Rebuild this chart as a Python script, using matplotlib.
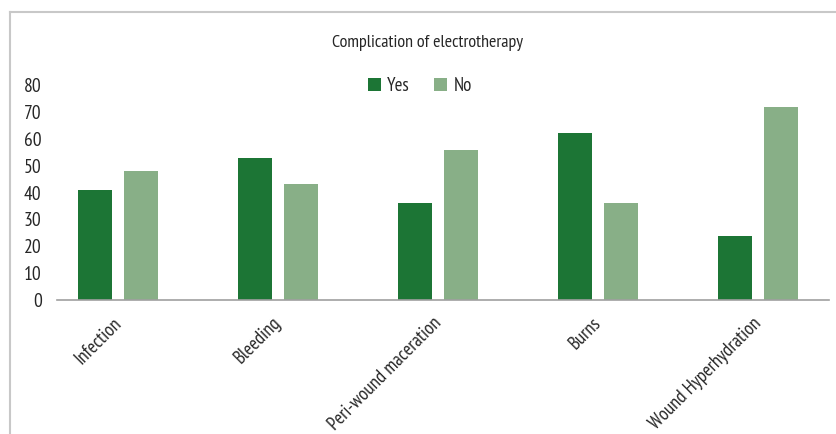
import matplotlib
matplotlib.use("Agg")
import matplotlib.pyplot as plt
import matplotlib.transforms as mtransforms
from matplotlib.lines import Line2D
import numpy as np

categories = ["Infection", "Bleeding", "Peri-wound maceration", "Burns", "Wound Hyperhydration"]
yes_vals = [41, 53, 36, 62, 24]
no_vals = [48, 43, 56, 36, 72]
y_ticks = [0, 10, 20, 30, 40, 50, 60, 70, 80]

plt.rcParams["font.family"] = ["PT Sans Narrow", "DejaVu Sans"]

dark = "#1C7535"
light = "#88AF87"
text_col = "#262626"

fig = plt.figure(figsize=(8.37, 4.34), dpi=100)
W, H = 837, 434
ax = fig.add_axes([57 / W, 1 - 300 / H, (829 - 57) / W, (300 - 85) / H])

x = np.arange(len(categories))
bw = 0.2125
off = 0.14375
ax.bar(x - off, yes_vals, bw, color=dark, label="Yes")
ax.bar(x + off, no_vals, bw, color=light, label="No")

ax.set_xlim(-0.381, 4.444)
ax.set_ylim(0, 80)
ax.set_yticks(y_ticks)
ax.tick_params(axis="y", length=0, labelsize=14, colors=text_col, pad=11)
ax.set_xticks(x)
ax.set_xticklabels(categories, rotation=45, ha="right", va="top",
                   rotation_mode="anchor", fontsize=13.5, color=text_col)
ax.tick_params(axis="x", length=0, pad=10)
shift = mtransforms.ScaledTranslation(-6 / 100, 0, fig.dpi_scale_trans)
for lab in ax.get_xticklabels():
    lab.set_transform(lab.get_transform() + shift)

for s in ["top", "right", "left"]:
    ax.spines[s].set_visible(False)
ax.spines["bottom"].set_color("#A0A0A0")
ax.spines["bottom"].set_linewidth(1.2)

fig.text(428 / W, 1 - 43 / H, "Complication of electrotherapy",
         ha="center", va="center", fontsize=13, color=text_col)

fig.legend(loc="center", bbox_to_anchor=(420 / W, 1 - 86 / H), ncol=2,
           frameon=False, fontsize=13.5, handlelength=0.7, handleheight=0.7,
           handletextpad=0.35, columnspacing=1.3, labelcolor=text_col)

# outer frame: top and left edges only
fig.add_artist(Line2D([10.5 / W, 10.5 / W], [0, 1 - 11.5 / H], color="#C8C8C8", lw=1.5))
fig.add_artist(Line2D([10.5 / W, 1], [1 - 11.5 / H, 1 - 11.5 / H], color="#C8C8C8", lw=1.5))

fig.savefig("out.png", dpi=100)
